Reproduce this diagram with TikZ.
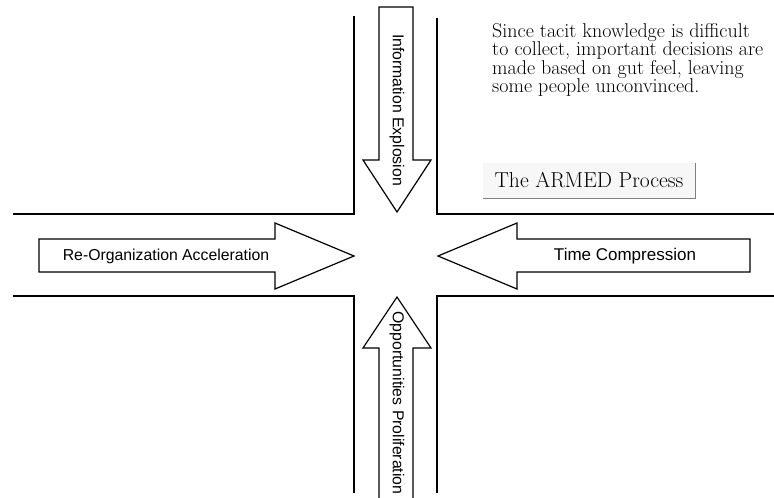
\documentclass[tikz,border=0pt]{standalone}
\usepackage{fontspec}
\newfontfamily\arialf{Liberation Sans}
\begin{document}
\begin{tikzpicture}[x=1pt,y=-1pt,
  road/.style={line width=1.4pt, line join=miter},
  arrowshape/.style={draw, line width=1.2pt, fill=white, line join=miter},
  lbl/.style={font=\arialf\fontsize{15.8}{18}\selectfont, inner sep=0pt}]
\useasboundingbox (0,0) rectangle (774,498);
% road edges
\draw[road] (354,16) -- (354,214) -- (13,214);
\draw[road] (437,18) -- (437,214) -- (774,214);
\draw[road] (13,296) -- (354,296) -- (354,493);
\draw[road] (774,296) -- (437,296) -- (437,493);
% block arrows
\draw[arrowshape] (379,7) -- (413,7) -- (413,160) -- (431,160) -- (397,212) -- (363,160) -- (379,160) -- cycle;
\draw[arrowshape] (379,505) -- (379,348) -- (363,348) -- (397,297) -- (431,348) -- (413,348) -- (413,505) -- cycle;
\draw[arrowshape] (39,239) -- (275,239) -- (275,223) -- (354,256) -- (275,289) -- (275,272) -- (39,272) -- cycle;
\draw[arrowshape] (750,239) -- (517,239) -- (517,223) -- (438,256) -- (517,289) -- (517,272) -- (750,272) -- cycle;
% labels
\node[lbl, rotate=-90] (ie) at (397,110) {Information Explosion};
\node[lbl, rotate=-90] (op) at (397,403) {Opportunities Proliferation};
\node[lbl] (roa) at (166,256) {Re-Organization Acceleration};
\node[lbl, font=\arialf\fontsize{17}{19}\selectfont] (tc) at (625,256) {Time Compression};
% note
\node[anchor=north west, inner sep=0pt, align=left, font=\fontsize{20}{18.5}\selectfont] (note) at (492,23)
  {Since tacit knowledge is difficult\\to collect, important decisions are\\made based on gut feel, leaving\\some people unconvinced.};
% title box
\node[fill=black!3, minimum width=212pt, minimum height=35pt, inner sep=0pt, font=\fontsize{21.6}{22}\selectfont] (armed) at (589,180.5) {The ARMED Process};
\draw[gray, line width=1pt] (armed.north east) -- (armed.south east) -- (armed.south west);
\end{tikzpicture}
\end{document}
